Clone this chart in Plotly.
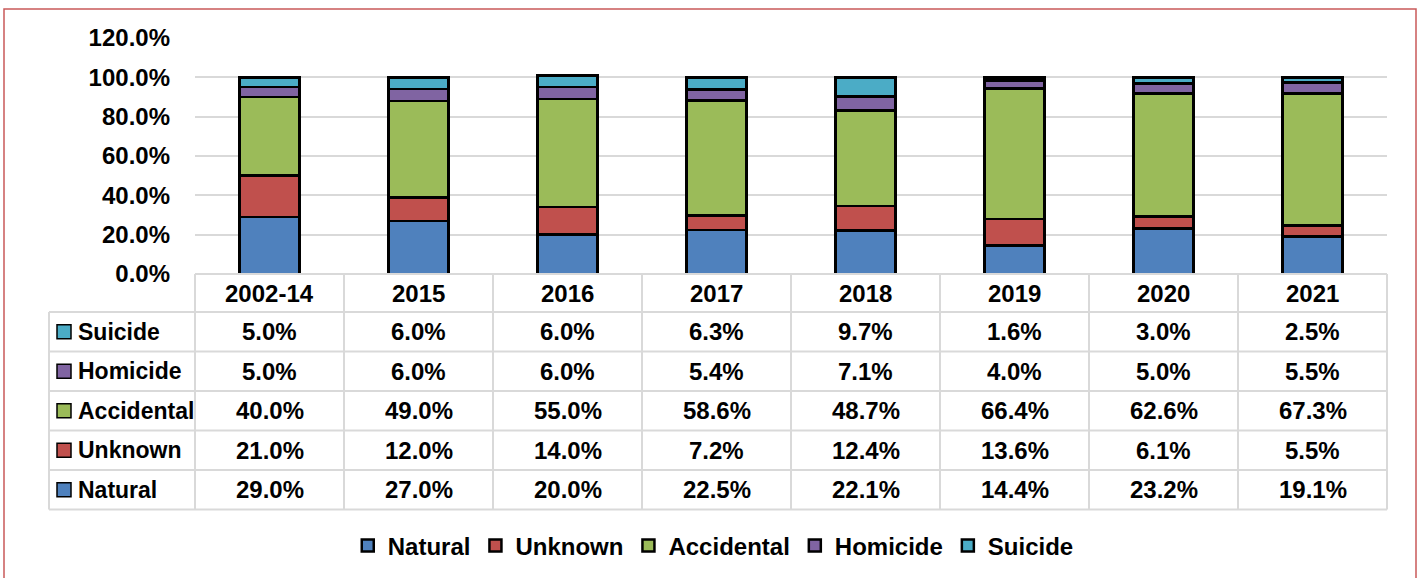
import plotly.graph_objects as go

years = ['2002-14', '2015', '2016', '2017', '2018', '2019', '2020', '2021']
natural = [29.0, 27.0, 20.0, 22.5, 22.1, 14.4, 23.2, 19.1]
unknown = [21.0, 12.0, 14.0, 7.2, 12.4, 13.6, 6.1, 5.5]
accidental = [40.0, 49.0, 55.0, 58.6, 48.7, 66.4, 62.6, 67.3]
homicide = [5.0, 6.0, 6.0, 5.4, 7.1, 4.0, 5.0, 5.5]
suicide = [5.0, 6.0, 6.0, 6.3, 9.7, 1.6, 3.0, 2.5]
y_ticks = [0, 20, 40, 60, 80, 100, 120]

series = [
    ('Natural', natural, '#4F81BD'),
    ('Unknown', unknown, '#C0504D'),
    ('Accidental', accidental, '#9BBB59'),
    ('Homicide', homicide, '#8064A2'),
    ('Suicide', suicide, '#4BACC6'),
]

W, H = 1418, 578
L, R = 195, 31
FONT = 'Liberation Sans, Arial, sans-serif'
FS = 24
GRID = '#D9D9D9'


def px(x):
    return (x - L) / (W - L - R)


def py(y):
    return (H - y) / H


fig = go.Figure()
for name, vals, color in series:
    fig.add_trace(go.Bar(x=years, y=vals, name=name, width=0.4,
                         marker=dict(color=color, line=dict(color='black', width=2.5))))

shapes = []
annotations = []

# chart border
shapes.append(dict(type='rect', xref='paper', yref='paper', x0=px(4), x1=px(1416),
                   y0=py(590), y1=py(9), line=dict(color='#C9595A', width=1.5), layer='below'))

# data table under the axis
row_edges = [312, 351.5, 391, 430.5, 470, 509.5]
top = 274
tbl_left, tbl_right = 49, W - R
cat_w = (W - L - R) / len(years)
for y in row_edges:
    shapes.append(dict(type='line', xref='paper', yref='paper', x0=px(tbl_left), x1=px(tbl_right),
                       y0=py(y), y1=py(y), line=dict(color=GRID, width=2)))
shapes.append(dict(type='line', xref='paper', yref='paper', x0=px(L), x1=px(tbl_right),
                   y0=py(top), y1=py(top), line=dict(color=GRID, width=2)))
shapes.append(dict(type='line', xref='paper', yref='paper', x0=px(tbl_left), x1=px(tbl_left),
                   y0=py(row_edges[0]), y1=py(row_edges[-1]), line=dict(color=GRID, width=2)))
for k in range(len(years) + 1):
    xx = L + k * cat_w
    shapes.append(dict(type='line', xref='paper', yref='paper', x0=px(xx), x1=px(xx),
                       y0=py(top), y1=py(row_edges[-1]), line=dict(color=GRID, width=2)))

tfont = dict(family=FONT, size=FS, color='black', weight='bold')
lfont = dict(family=FONT, size=23, color='black', weight='bold')
for i, yr in enumerate(years):
    annotations.append(dict(x=i, xref='x', y=py((top + row_edges[0]) / 2), yref='paper',
                            text=yr, showarrow=False, font=tfont, yanchor='middle'))

table_rows = list(reversed(series))
for r, (name, vals, color) in enumerate(table_rows):
    yc = (row_edges[r] + row_edges[r + 1]) / 2
    shapes.append(dict(type='rect', xref='paper', yref='paper', x0=px(57), x1=px(71),
                       y0=py(yc - 7), y1=py(yc + 7), fillcolor=color,
                       line=dict(color='black', width=1.5)))
    annotations.append(dict(x=px(76), xref='paper', y=py(yc), yref='paper', text=name,
                            showarrow=False, font=lfont, xanchor='left', yanchor='middle'))
    for i, v in enumerate(vals):
        annotations.append(dict(x=i, xref='x', y=py(yc), yref='paper', text=f'{v:.1f}%',
                                showarrow=False, font=tfont, yanchor='middle'))

fig.update_layout(
    width=W, height=H,
    margin=dict(l=L, r=R, t=0, b=0, autoexpand=False),
    barmode='stack', bargap=0.6,
    plot_bgcolor='white', paper_bgcolor='white',
    font=dict(family=FONT, size=FS, color='black', weight='bold'),
    showlegend=True,
    legend=dict(orientation='h', xref='container', x=0.503, xanchor='center',
                yref='container', y=py(546), yanchor='middle', traceorder='normal',
                font=dict(family=FONT, size=FS, weight='bold'), itemwidth=30),
    xaxis=dict(type='category', range=[-0.5, len(years) - 0.5], showticklabels=False,
               showgrid=False, zeroline=False, showline=False),
    yaxis=dict(domain=[py(274), py(38)], range=[0, 120], tickvals=y_ticks,
               ticktext=[f'{t:.1f}%' for t in y_ticks], showgrid=True, gridcolor=GRID,
               gridwidth=2, zeroline=False, showline=False, ticklabelstandoff=24,
               tickfont=dict(family=FONT, size=FS, weight='bold')),
    shapes=shapes,
    annotations=annotations,
)

# drop the default page margin so the figure sits at the window's corner
fig.write_html('out.html', config={'displayModeBar': False},
               post_script="document.body.style.margin='0';")
